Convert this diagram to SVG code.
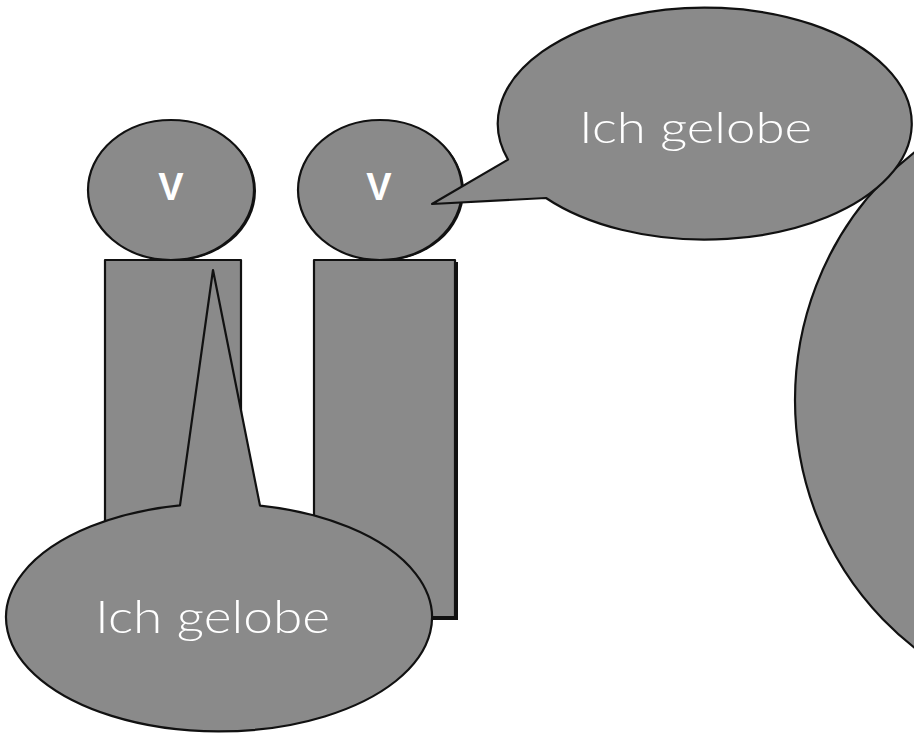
<svg xmlns="http://www.w3.org/2000/svg" width="914" height="734" viewBox="0 0 914 734">
<style>
.s{fill:#8a8a8a;stroke:#111;stroke-width:2.2;stroke-linejoin:round}
.sh{fill:#111;stroke:none}
.v{font-family:"Liberation Sans",Arial,sans-serif;font-weight:bold;font-size:38px;fill:#fff;text-anchor:middle}
.t{font-family:Lato,"Open Sans","DejaVu Sans",sans-serif;font-weight:300;fill:#fff}
</style>
<rect width="914" height="734" fill="#fff"/>
<g id="big-circle">
<ellipse class="s" cx="1095" cy="400" rx="300" ry="310"/>
</g>
<g id="body1">
<rect class="s" x="105" y="260" width="136" height="360"/>
</g>
<g id="body2">
<rect class="sh" x="316" y="262" width="142" height="358"/>
<rect class="s" x="314" y="260" width="141" height="357"/>
</g>
<g id="head1">
<ellipse class="sh" cx="173" cy="191" rx="83" ry="70"/>
<ellipse class="s" cx="171" cy="190" rx="83" ry="70"/>
<text class="v" x="171" y="200">V</text>
</g>
<g id="head2">
<ellipse class="sh" cx="382" cy="191" rx="82" ry="70"/>
<ellipse class="s" cx="380" cy="190" rx="82" ry="70"/>
<text class="v" x="379" y="200">V</text>
</g>
<g id="bubble-top">
<path class="s" d="M508,159.6 A207,116 0 1 1 546,198 L432,204 Z"/>
<text class="t" x="579" y="143" font-size="44" textLength="233" lengthAdjust="spacingAndGlyphs">Ich gelobe</text>
</g>
<g id="bubble-bottom">
<path class="s" d="M260,505.6 A213,114 0 1 1 180,505.4 L213,270 Z"/>
<text class="t" x="95" y="633" font-size="46" textLength="235" lengthAdjust="spacingAndGlyphs">Ich gelobe</text>
</g>
<g id="connectors"></g>
</svg>
